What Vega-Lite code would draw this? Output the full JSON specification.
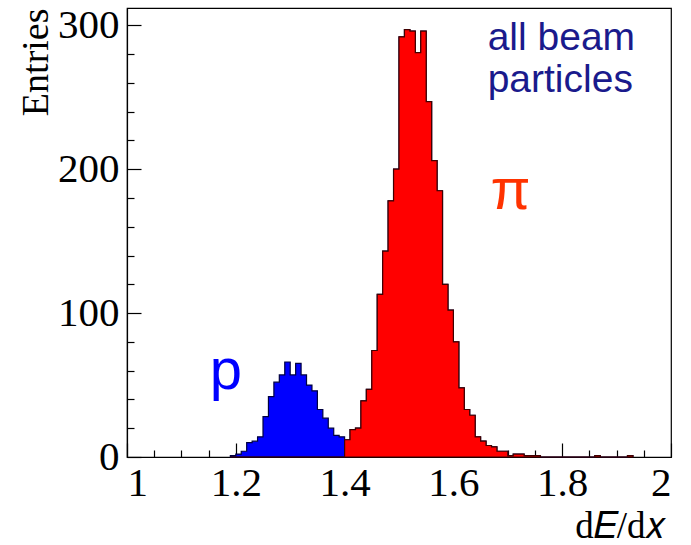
{
  "$schema": "https://vega.github.io/schema/vega-lite/v6.json",
  "autosize": {"type": "none"},
  "padding": {"left": 127, "top": 8, "right": 20, "bottom": 88},
  "width": 544,
  "height": 449,
  "background": "white",
  "config": {
    "view": {"stroke": "black", "strokeWidth": 1.2},
    "axis": {
      "labelFont": "Liberation Serif", "titleFont": "Liberation Serif",
      "labelColor": "black", "titleColor": "black", "domainColor": "black", "tickColor": "black",
      "grid": false, "labelFontSize": 41, "titleFontSize": 38, "titleFontWeight": "normal", "zindex": 1,
      "domainWidth": 1.2, "tickWidth": 1.2
    }
  },
  "datasets": {
    "hist": [
      {"lo": 1.19, "n": 1, "sp": "p"}, {"lo": 1.20, "n": 2, "sp": "p"}, {"lo": 1.21, "n": 4, "sp": "p"},
      {"lo": 1.22, "n": 10, "sp": "p"}, {"lo": 1.23, "n": 11, "sp": "p"}, {"lo": 1.24, "n": 14, "sp": "p"},
      {"lo": 1.25, "n": 28, "sp": "p"}, {"lo": 1.26, "n": 42, "sp": "p"}, {"lo": 1.27, "n": 52, "sp": "p"},
      {"lo": 1.28, "n": 57, "sp": "p"}, {"lo": 1.29, "n": 66, "sp": "p"}, {"lo": 1.30, "n": 57, "sp": "p"},
      {"lo": 1.31, "n": 65, "sp": "p"}, {"lo": 1.32, "n": 57, "sp": "p"}, {"lo": 1.33, "n": 50, "sp": "p"},
      {"lo": 1.34, "n": 46, "sp": "p"}, {"lo": 1.35, "n": 33, "sp": "p"}, {"lo": 1.36, "n": 27, "sp": "p"},
      {"lo": 1.37, "n": 20, "sp": "p"}, {"lo": 1.38, "n": 15, "sp": "p"}, {"lo": 1.39, "n": 14, "sp": "p"},
      {"lo": 1.40, "n": 0, "sp": "p"},
      {"lo": 1.40, "n": 12, "sp": "pi"}, {"lo": 1.41, "n": 19, "sp": "pi"}, {"lo": 1.42, "n": 20, "sp": "pi"},
      {"lo": 1.43, "n": 39, "sp": "pi"}, {"lo": 1.44, "n": 47, "sp": "pi"}, {"lo": 1.45, "n": 74, "sp": "pi"},
      {"lo": 1.46, "n": 113, "sp": "pi"}, {"lo": 1.47, "n": 143, "sp": "pi"}, {"lo": 1.48, "n": 178, "sp": "pi"},
      {"lo": 1.49, "n": 200, "sp": "pi"}, {"lo": 1.50, "n": 292, "sp": "pi"}, {"lo": 1.51, "n": 297, "sp": "pi"},
      {"lo": 1.52, "n": 296, "sp": "pi"}, {"lo": 1.53, "n": 281, "sp": "pi"}, {"lo": 1.54, "n": 296, "sp": "pi"},
      {"lo": 1.55, "n": 247, "sp": "pi"}, {"lo": 1.56, "n": 206, "sp": "pi"}, {"lo": 1.57, "n": 185, "sp": "pi"},
      {"lo": 1.58, "n": 120, "sp": "pi"}, {"lo": 1.59, "n": 102, "sp": "pi"}, {"lo": 1.60, "n": 80, "sp": "pi"},
      {"lo": 1.61, "n": 48, "sp": "pi"}, {"lo": 1.62, "n": 33, "sp": "pi"}, {"lo": 1.63, "n": 29, "sp": "pi"},
      {"lo": 1.64, "n": 14, "sp": "pi"}, {"lo": 1.65, "n": 11, "sp": "pi"}, {"lo": 1.66, "n": 8, "sp": "pi"},
      {"lo": 1.67, "n": 7, "sp": "pi"}, {"lo": 1.68, "n": 4, "sp": "pi"}, {"lo": 1.69, "n": 4, "sp": "pi"},
      {"lo": 1.70, "n": 1, "sp": "pi"}, {"lo": 1.71, "n": 2, "sp": "pi"}, {"lo": 1.72, "n": 2, "sp": "pi"},
      {"lo": 1.73, "n": 1, "sp": "pi"}, {"lo": 1.74, "n": 1, "sp": "pi"}, {"lo": 1.75, "n": 1, "sp": "pi"},
      {"lo": 1.76, "n": 0, "sp": "pi"}, {"lo": 1.86, "n": 1, "sp": "pi"}, {"lo": 1.87, "n": 0, "sp": "pi"},
      {"lo": 1.92, "n": 1, "sp": "pi"}, {"lo": 1.93, "n": 0, "sp": "pi"}
    ],
    "one": [{}]
  },
  "layer": [
    {
      "data": {"name": "hist"},
      "mark": {"type": "area", "interpolate": "step-after", "strokeWidth": 1.2},
      "encoding": {
        "x": {"field": "lo", "type": "quantitative",
          "scale": {"domain": [1, 2], "nice": false, "zero": false},
          "axis": {"orient": "bottom", "values": [1, 1.2, 1.4, 1.6, 1.8, 2], "format": "~g", "tickSize": -14,
            "labelPadding": 20, "title": "d𝐸/d𝑥", "titleAnchor": "end", "titlePadding": 5, "titleFontSize": 37, "titleX": 539}},
        "y": {"field": "n", "type": "quantitative",
          "scale": {"domain": [0, 312], "nice": false},
          "axis": {"orient": "left", "values": [0, 100, 200, 300], "tickSize": -14, "labelPadding": 22,
            "title": "Entries", "titleAnchor": "end", "titlePadding": 2}},
        "color": {"field": "sp", "type": "nominal", "scale": {"domain": ["p", "pi"], "range": ["#0000ff", "#ff0000"]}, "legend": null},
        "stroke": {"field": "sp", "type": "nominal", "scale": {"domain": ["p", "pi"], "range": ["#000040", "#400000"]}, "legend": null}
      }
    },
    {
      "data": {"name": "hist"},
      "mark": {"type": "point", "opacity": 0},
      "encoding": {
        "x": {"field": "lo", "type": "quantitative",
          "axis": {"orient": "bottom", "values": [1.05, 1.1, 1.15, 1.25, 1.3, 1.35, 1.45, 1.5, 1.55, 1.65, 1.7, 1.75, 1.85, 1.9, 1.95],
            "labels": false, "domain": false, "tickSize": -7, "title": null}},
        "y": {"field": "n", "type": "quantitative",
          "axis": {"orient": "left", "values": [20, 40, 60, 80, 120, 140, 160, 180, 220, 240, 260, 280],
            "labels": false, "domain": false, "tickSize": -7, "title": null}}
      }
    },
    {
      "data": {"name": "one"},
      "mark": {"type": "text", "text": ["all beam", "particles"], "font": "Liberation Sans", "fontSize": 39,
        "lineHeight": 42, "align": "left", "baseline": "alphabetic", "color": "#1a1a8c"},
      "encoding": {
        "x": {"datum": 1.663, "type": "quantitative", "axis": null},
        "y": {"datum": 283, "type": "quantitative", "axis": null}
      }
    },
    {
      "data": {"name": "one"},
      "mark": {"type": "text", "text": "π", "font": "Liberation Sans", "fontSize": 58,
        "align": "left", "baseline": "alphabetic", "color": "#ff3300"},
      "encoding": {
        "x": {"datum": 1.668, "type": "quantitative", "axis": null},
        "y": {"datum": 172, "type": "quantitative", "axis": null}
      }
    },
    {
      "data": {"name": "one"},
      "mark": {"type": "text", "text": "p", "font": "Liberation Sans", "fontSize": 58,
        "align": "left", "baseline": "alphabetic", "color": "#0000ff"},
      "encoding": {
        "x": {"datum": 1.152, "type": "quantitative", "axis": null},
        "y": {"datum": 47, "type": "quantitative", "axis": null}
      }
    }
  ],
  "resolve": {"axis": {"x": "independent", "y": "independent"}}
}
